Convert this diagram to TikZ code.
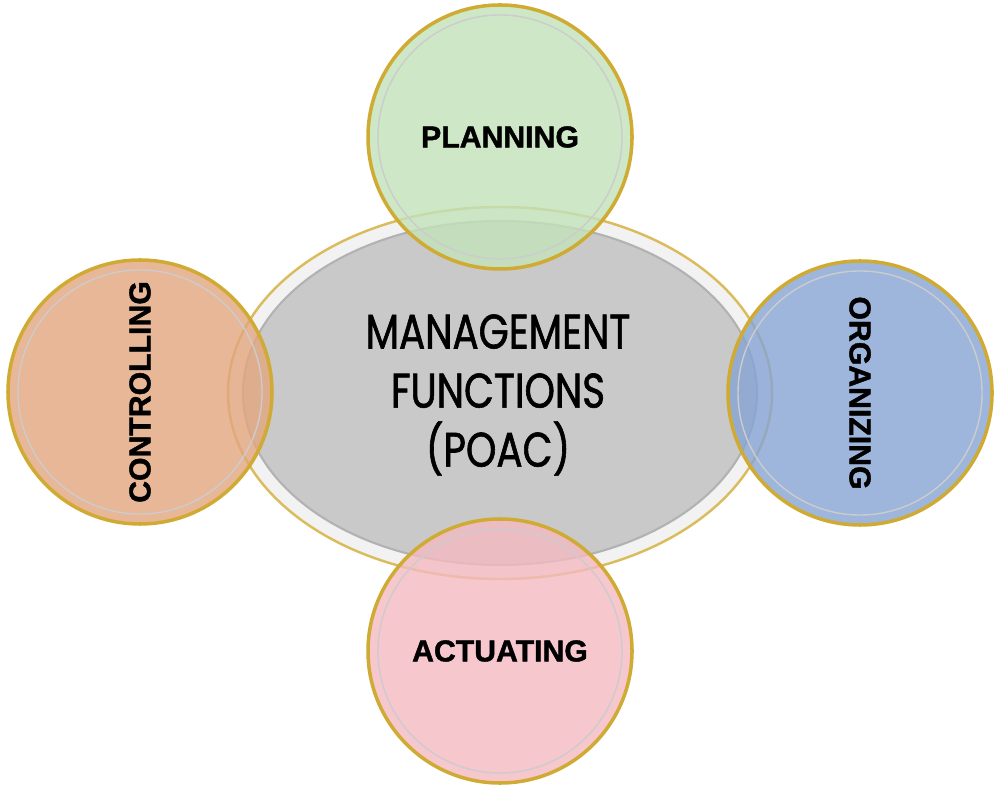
\documentclass[tikz,border=0pt]{standalone}
\usepackage{fontspec}
\setmainfont{Liberation Sans}
\newfontfamily\titlefont[FakeStretch=0.8, FakeBold=1.2]{Poppins}
\newfontfamily\labelfont[FakeBold=1.4]{Liberation Sans Bold}

\definecolor{goldrim}{HTML}{D0AB33}
\definecolor{planfill}{HTML}{C2E2BA}
\definecolor{ctrlfill}{HTML}{E2A67F}
\definecolor{orgfill}{HTML}{86A4D4}
\definecolor{actfill}{HTML}{F4BAC1}
\definecolor{platefill}{HTML}{C9C9C9}

\tikzset{
    func/.style={circle, draw=goldrim, line width=1.0pt, minimum size=2.64cm,
        fill opacity=0.8, text opacity=1,
        font=\labelfont\fontsize{8.6}{10}\selectfont},
    ring/.style={gray!40, line width=0.4pt},
}

\begin{document}
\begin{tikzpicture}
    \fill[white] (0,0) rectangle (10,7.97);
    \useasboundingbox (0,0) rectangle (10,7.97);

    % central plate
    \draw[goldrim!80, line width=0.7pt, fill=gray!10] (5,4.04) ellipse (2.72 and 1.86);
    \draw[gray!60, line width=0.6pt, fill=platefill] (5,4.04) ellipse (2.57 and 1.72);
    \node[font=\titlefont\fontsize{13.8}{16.8}\selectfont, align=center] (poac) at (4.98,4.02)
        {MANAGEMENT\\FUNCTIONS\\(POAC)};

    % the four functions
    \node[func, fill=planfill] (plan) at (5,6.60) {PLANNING};
    \node[func, fill=ctrlfill] (ctrl) at (1.40,4.05) {\rotatebox{90}{CONTROLLING}};
    \node[func, fill=orgfill] (org) at (8.60,4.04) {\rotatebox{-90}{ORGANIZING}};
    \node[func, fill=actfill] (act) at (5,1.46) {ACTUATING};

    \foreach \f in {plan,ctrl,org,act} {
        \draw[ring] (\f.center) circle (1.22);
    }
\end{tikzpicture}
\end{document}
